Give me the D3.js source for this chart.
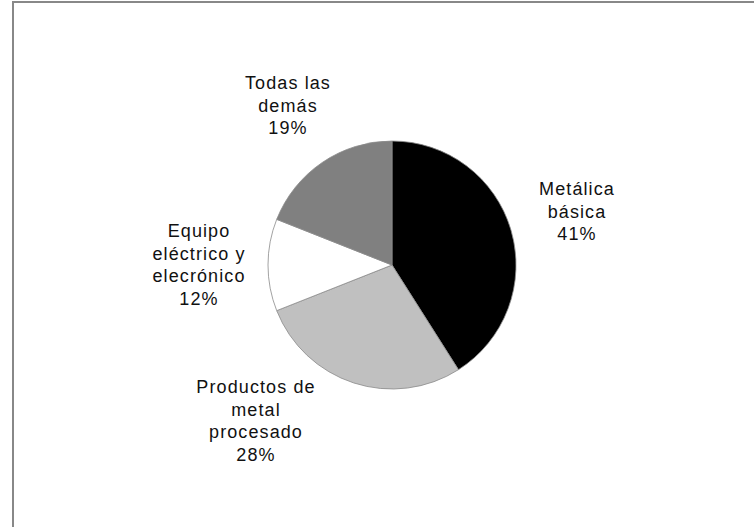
<!DOCTYPE html>
<html>
<head>
<meta charset="utf-8">
<script src="https://cdn.jsdelivr.net/npm/d3@7"></script>
<style>
  html, body { margin: 0; padding: 0; background: #fff; }
  svg { display: block; }
  .lbl { font-family: "Liberation Sans", Arial, sans-serif; font-size: 18px; letter-spacing: 1.1px; fill: #111; }
</style>
</head>
<body>
<svg id="chart" width="754" height="527"></svg>
<script>
// Sectors, clockwise from 12 o'clock
const categories = ["Metálica básica", "Productos de metal procesado", "Equipo eléctrico y elecrónico", "Todas las demás"];
const shares = [41, 28, 12, 19];
const sliceColors = ["#000000", "#c0c0c0", "#ffffff", "#808080"];
// Label text, one entry per line
const labelLines = [
  ["Metálica", "básica", "41%"],
  ["Productos de", "metal", "procesado", "28%"],
  ["Equipo", "eléctrico y", "elecrónico", "12%"],
  ["Todas las", "demás", "19%"]
];
// Label anchor (centre x, first baseline y)
const labelPos = [[577, 195], [256, 393], [199, 237], [288, 89]];

const svg = d3.select("#chart");
const W = 754, H = 527;

// frame
svg.append("rect")
  .attr("x", 13).attr("y", 2)
  .attr("width", W + 20).attr("height", H + 20)
  .attr("fill", "none").attr("stroke", "#888").attr("stroke-width", 2);

const cx = 392, cy = 265, R = 124;
const pie = d3.pie().sort(null).value(d => d);
const arc = d3.arc().innerRadius(0).outerRadius(R);
const color = d3.scaleOrdinal().domain(categories).range(sliceColors);

const g = svg.append("g").attr("transform", `translate(${cx},${cy})`);
g.selectAll("path")
  .data(pie(shares))
  .join("path")
  .attr("d", arc)
  .attr("fill", (d, i) => color(categories[i]))
  .attr("stroke", "#8a8a8a")
  .attr("stroke-width", 0.8);

const lineH = 22.5;
labelLines.forEach((lines, i) => {
  svg.append("g").selectAll("text")
    .data(lines)
    .join("text")
    .attr("class", "lbl")
    .attr("text-anchor", "middle")
    .attr("x", labelPos[i][0])
    .attr("y", (s, j) => labelPos[i][1] + j * lineH)
    .text(s => s);
});
</script>
</body>
</html>
